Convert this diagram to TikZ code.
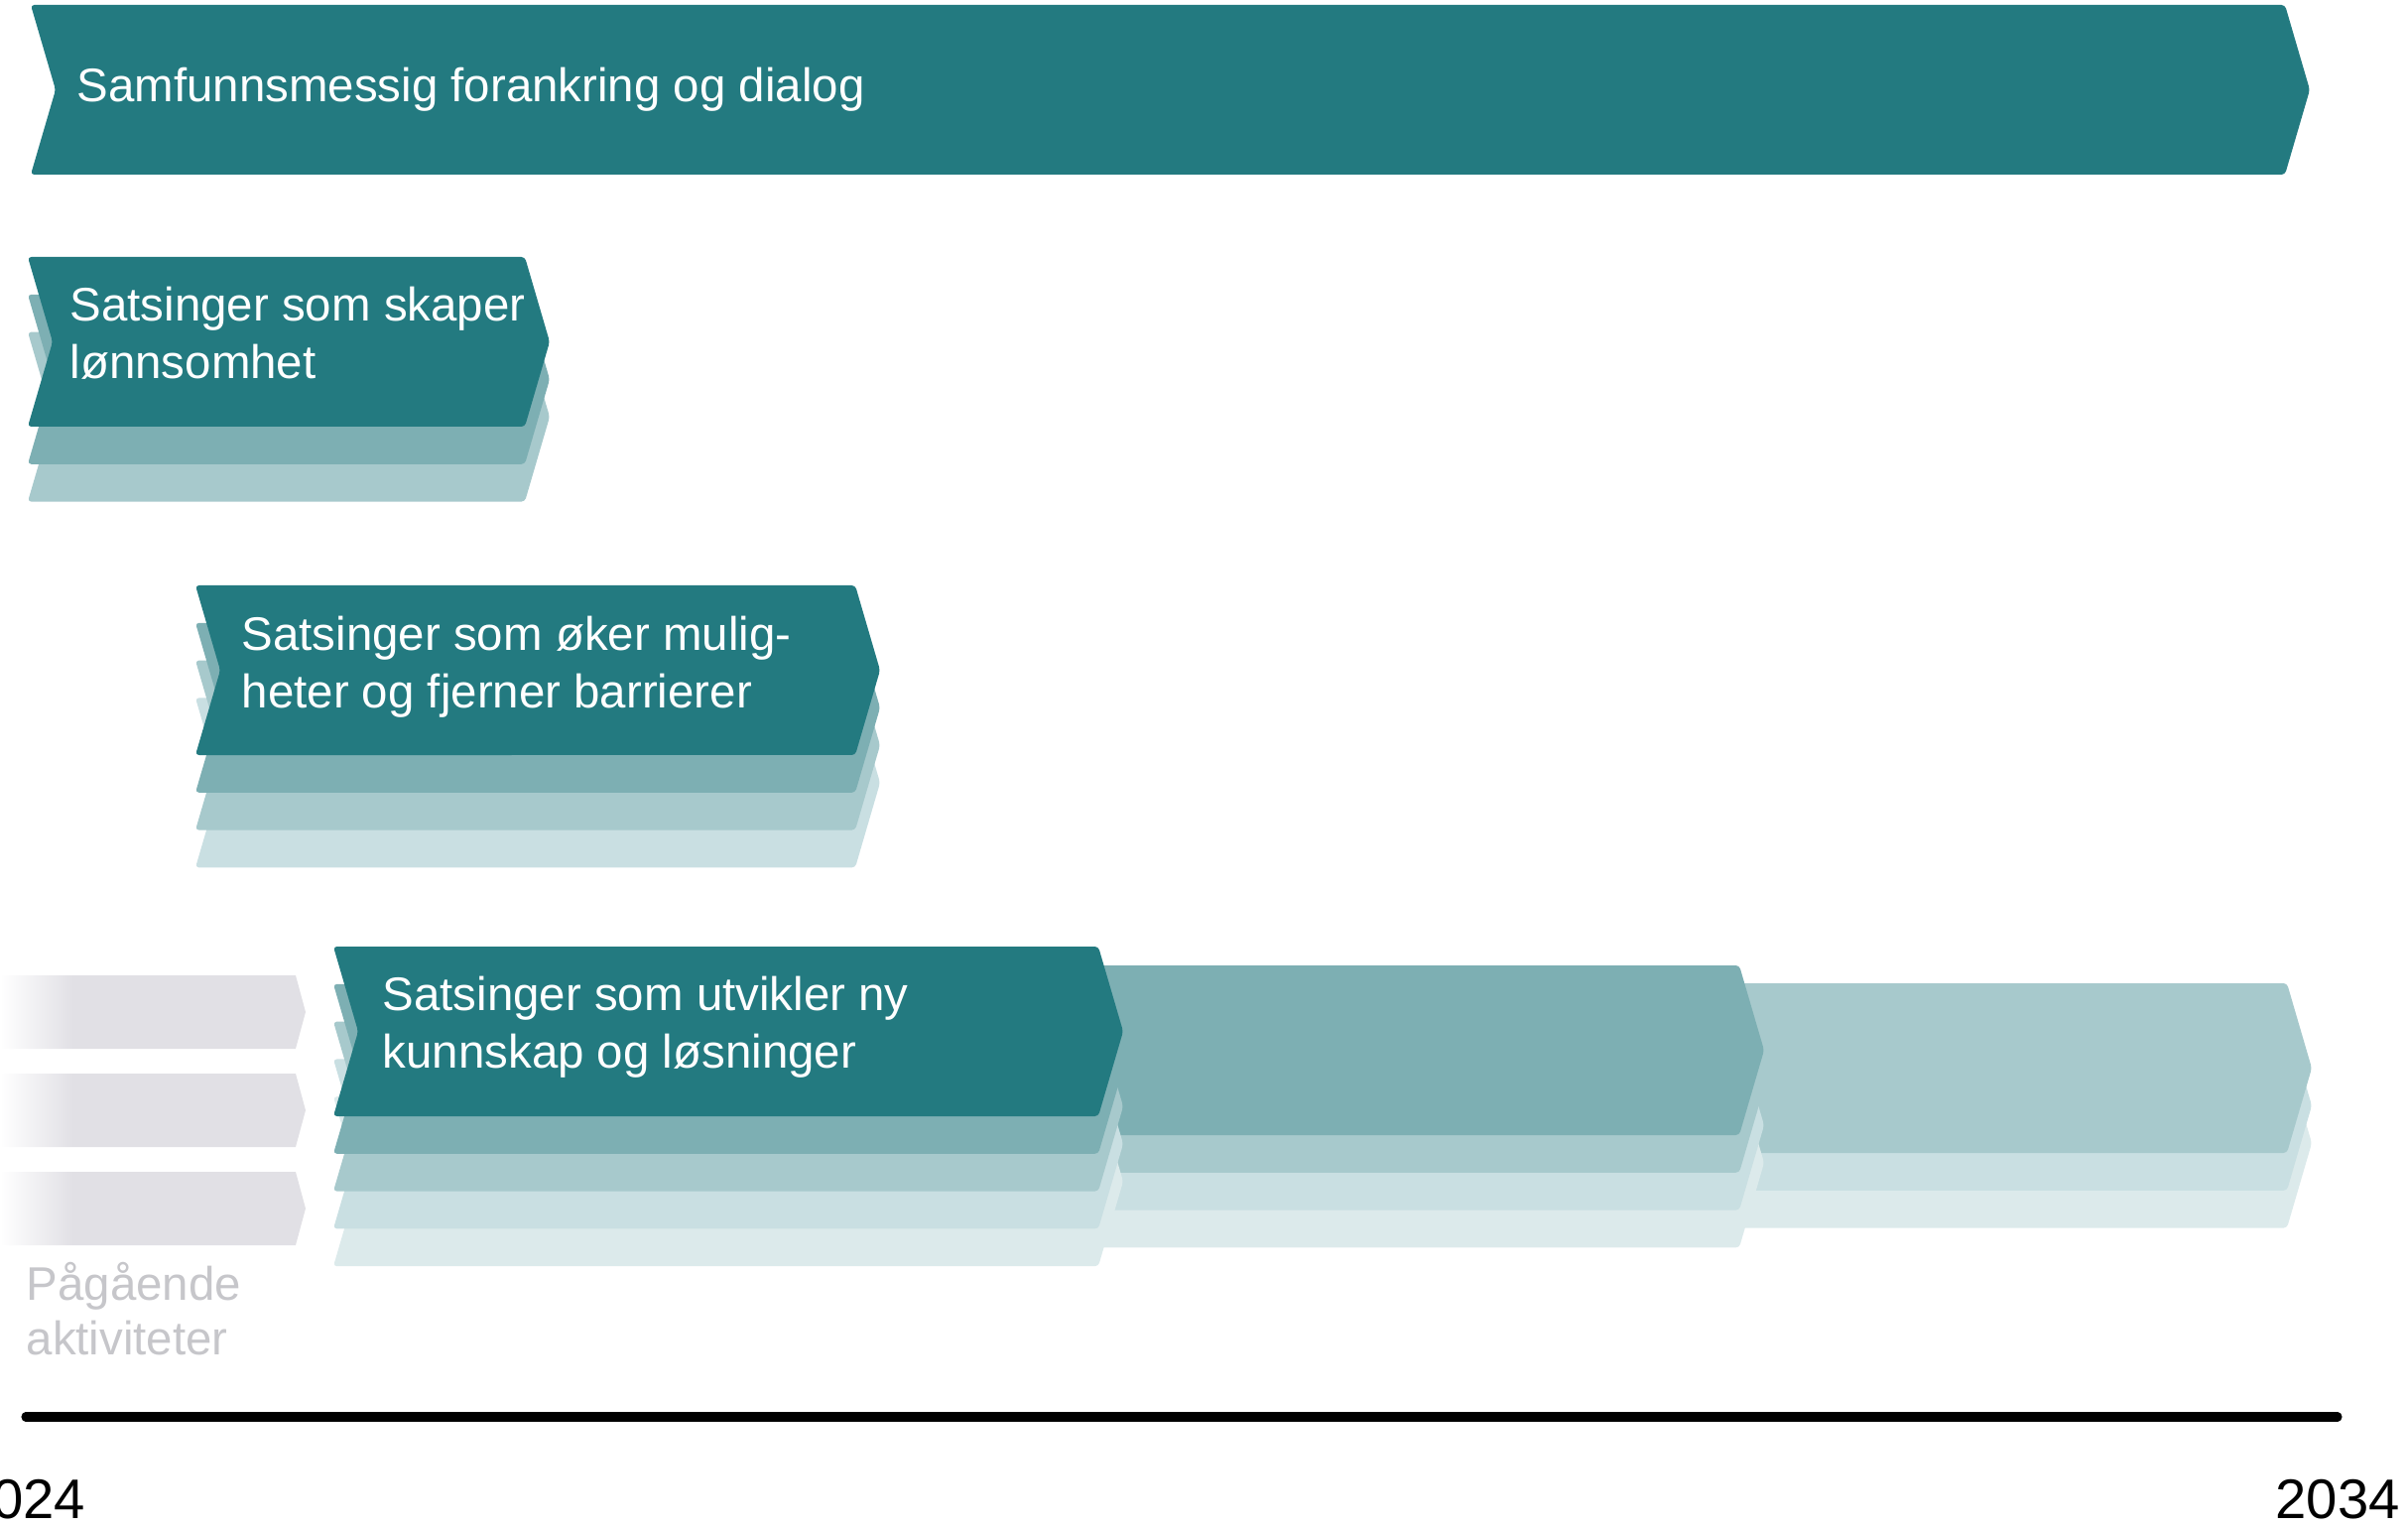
\documentclass[tikz,border=0pt]{standalone}
\usepackage{fontspec}
\setmainfont{Liberation Sans}
\definecolor{teal1}{HTML}{237A80}
\definecolor{teal2}{HTML}{7DAFB3}
\definecolor{teal3}{HTML}{A7C9CC}
\definecolor{teal4}{HTML}{C9DFE2}
\definecolor{teal5}{HTML}{DCEAEB}
\definecolor{greybar}{HTML}{E1E0E5}
\definecolor{greytext}{HTML}{C6C6CA}
\pgfdeclarehorizontalshading{barfade}{100bp}{color(0bp)=(white); color(25bp)=(white); color(37bp)=(greybar); color(100bp)=(greybar)}
% chevron: left x, right x, top y, colour
\newcommand{\chev}[4]{\fill[#4, rounded corners=1pt] (#1,#3) -- (#2,#3) -- ++(0.25,0.855) -- ++(-0.25,0.855) -- (#1,#3+1.71) -- ++(0.25,-0.855) -- cycle;}
\begin{document}
\begin{tikzpicture}[y=-1cm]
\useasboundingbox (0,0) rectangle (24.27,15.39);

\chev{0.31}{23.03}{0.05}{teal1}
\foreach \k/\c in {2/teal3,1/teal2,0/teal1} {\chev{0.28}{5.29}{2.59+0.378*\k}{\c}}
\foreach \k/\c in {3/teal4,2/teal3,1/teal2,0/teal1} {\chev{1.97}{8.62}{5.90+0.378*\k}{\c}}
\foreach \k/\c in {2/teal5,1/teal4,0/teal3} {\chev{17.3}{23.05}{9.91+0.378*\k}{\c}}
\foreach \k/\c in {3/teal5,2/teal4,1/teal3,0/teal2} {\chev{10.9}{17.53}{9.73+0.378*\k}{\c}}
\foreach \k/\c in {4/teal5,3/teal4,2/teal3,1/teal2,0/teal1} {\chev{3.36}{11.07}{9.54+0.378*\k}{\c}}

\foreach \t in {9.83,10.82,11.81}
  \shade[shading=barfade] (0,\t) -- (2.98,\t) -- ++(0.1,0.37) -- ++(-0.1,0.37) -- (0,\t+0.74) -- cycle;

\tikzset{lbl/.style={anchor=base west, text=white, inner sep=0pt, font=\fontsize{13.5}{16}\selectfont}}
\tikzset{year/.style={inner sep=0pt, font=\fontsize{16}{19}\selectfont}}
\node[lbl] (dialog) at (0.77,1.03) {Samfunnsmessig forankring og dialog};
\node[lbl] (skaper) at (0.70,3.24) {Satsinger som skaper};
\node[lbl] (skaper2) at (0.70,3.82) {lønnsomhet};
\node[lbl] (oeker) at (2.43,6.56) {Satsinger som øker mulig-};
\node[lbl] (oeker2) at (2.43,7.14) {heter og fjerner barrierer};
\node[lbl] (utvikler) at (3.85,10.18) {Satsinger som utvikler ny};
\node[lbl] (utvikler2) at (3.85,10.76) {kunnskap og løsninger};
\node[lbl, text=greytext] (pagaende) at (0.26,13.10) {Pågående};
\node[lbl, text=greytext] (aktiv) at (0.26,13.65) {aktiviteter};

\coordinate (t0) at (0.26,14.28);
\coordinate (t1) at (23.56,14.28);
\draw[line width=2.6pt, line cap=round] (t0) -- (t1);
\node[year, anchor=base east] (y2024) at (0.87,15.30) {2024};
\node[year, anchor=base west] (y2034) at (22.93,15.30) {2034};
\end{tikzpicture}
\end{document}
